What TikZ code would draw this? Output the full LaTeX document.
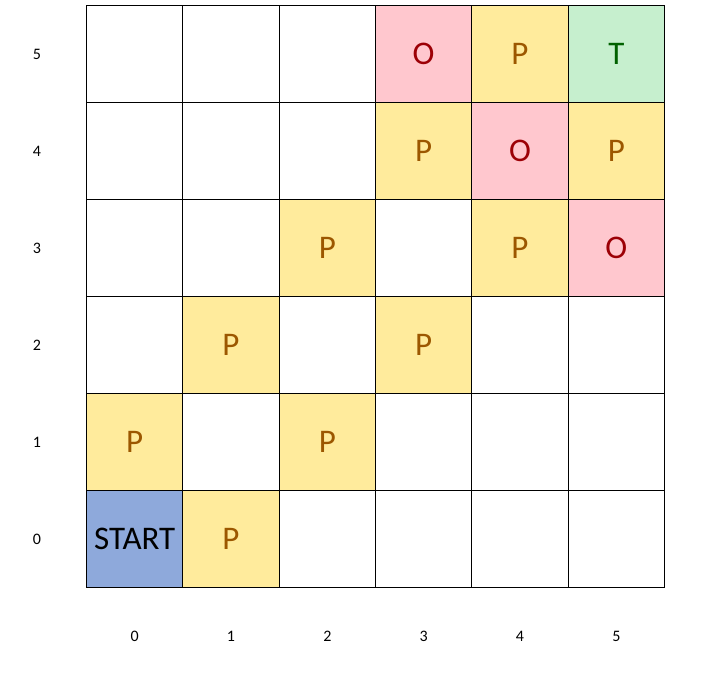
\documentclass[tikz,border=0pt]{standalone}
\usepackage{fontspec}
\setmainfont{Carlito}
\definecolor{pinkbg}{HTML}{FFC7CE}
\definecolor{pinktx}{HTML}{9C0006}
\definecolor{yelbg}{HTML}{FFEB9C}
\definecolor{yeltx}{HTML}{9C5700}
\definecolor{grnbg}{HTML}{C6EFCE}
\definecolor{grntx}{HTML}{006100}
\definecolor{blubg}{HTML}{8EA9DB}
\begin{document}
\begin{tikzpicture}[x=1pt,y=-1pt,
  cell/.style={draw=black,line width=1pt,minimum width=96.33pt,minimum height=97pt,inner sep=0pt,font=\fontsize{33}{33}\selectfont},
  empty/.style={cell,fill=white},
  pc/.style={cell,fill=yelbg,text=yeltx},
  oc/.style={cell,fill=pinkbg,text=pinktx},
  tc/.style={cell,fill=grnbg,text=grntx},
  sc/.style={cell,fill=blubg,text=black},
  axlab/.style={font=\fontsize{16}{16}\selectfont,inner sep=0pt}]
\useasboundingbox (0,0) rectangle (720,681);
\def\X#1{86.5+96.33*#1+48.165}
\def\Y#1{587.5-97*#1-48.5}
% row 0
\node[sc] (c00) at ({\X0},{\Y0}) {START};
\node[pc] (c10) at ({\X1},{\Y0}) {P};
\node[empty] (c20) at ({\X2},{\Y0}) {};
\node[empty] (c30) at ({\X3},{\Y0}) {};
\node[empty] (c40) at ({\X4},{\Y0}) {};
\node[empty] (c50) at ({\X5},{\Y0}) {};
% row 1
\node[pc] (c01) at ({\X0},{\Y1}) {P};
\node[empty] (c11) at ({\X1},{\Y1}) {};
\node[pc] (c21) at ({\X2},{\Y1}) {P};
\node[empty] (c31) at ({\X3},{\Y1}) {};
\node[empty] (c41) at ({\X4},{\Y1}) {};
\node[empty] (c51) at ({\X5},{\Y1}) {};
% row 2
\node[empty] (c02) at ({\X0},{\Y2}) {};
\node[pc] (c12) at ({\X1},{\Y2}) {P};
\node[empty] (c22) at ({\X2},{\Y2}) {};
\node[pc] (c32) at ({\X3},{\Y2}) {P};
\node[empty] (c42) at ({\X4},{\Y2}) {};
\node[empty] (c52) at ({\X5},{\Y2}) {};
% row 3
\node[empty] (c03) at ({\X0},{\Y3}) {};
\node[empty] (c13) at ({\X1},{\Y3}) {};
\node[pc] (c23) at ({\X2},{\Y3}) {P};
\node[empty] (c33) at ({\X3},{\Y3}) {};
\node[pc] (c43) at ({\X4},{\Y3}) {P};
\node[oc] (c53) at ({\X5},{\Y3}) {O};
% row 4
\node[empty] (c04) at ({\X0},{\Y4}) {};
\node[empty] (c14) at ({\X1},{\Y4}) {};
\node[empty] (c24) at ({\X2},{\Y4}) {};
\node[pc] (c34) at ({\X3},{\Y4}) {P};
\node[oc] (c44) at ({\X4},{\Y4}) {O};
\node[pc] (c54) at ({\X5},{\Y4}) {P};
% row 5
\node[empty] (c05) at ({\X0},{\Y5}) {};
\node[empty] (c15) at ({\X1},{\Y5}) {};
\node[empty] (c25) at ({\X2},{\Y5}) {};
\node[oc] (c35) at ({\X3},{\Y5}) {O};
\node[pc] (c45) at ({\X4},{\Y5}) {P};
\node[tc] (c55) at ({\X5},{\Y5}) {T};
% axis labels
\foreach \i in {0,...,5} {
  \node[axlab] (r\i) at (37,{\Y\i}) {\i};
  \node[axlab] (k\i) at ({\X\i},636) {\i};
}
\end{tikzpicture}
\end{document}
